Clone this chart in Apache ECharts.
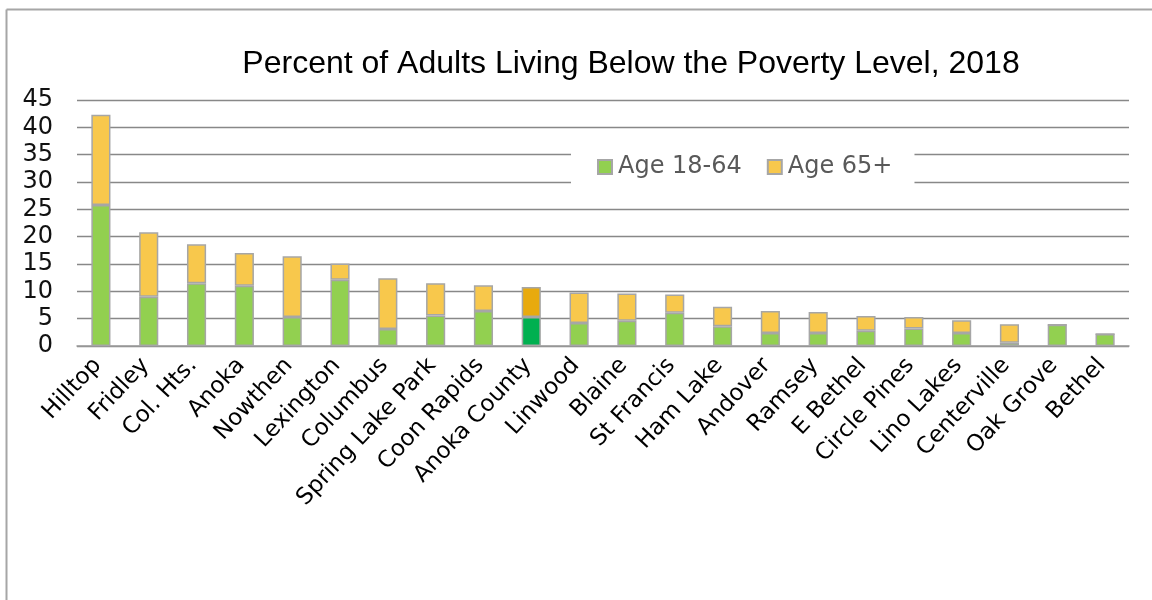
<!DOCTYPE html>
<html>
<head>
<meta charset="utf-8">
<script src="https://cdn.jsdelivr.net/npm/echarts@6/dist/echarts.min.js"></script>
<style>
html,body{margin:0;padding:0;background:#fff;}
#chart{width:1152px;height:600px;}
</style>
</head>
<body>
<div id="chart"></div>
<script>
const categories = ["Hilltop","Fridley","Col. Hts.","Anoka","Nowthen","Lexington","Columbus","Spring Lake Park","Coon Rapids","Anoka County","Linwood","Blaine","St Francis","Ham Lake","Andover","Ramsey","E Bethel","Circle Pines","Lino Lakes","Centerville","Oak Grove","Bethel"];
const age18to64 = [25.8, 9.0, 11.5, 11.0, 5.3, 12.1, 3.1, 5.6, 6.4, 5.3, 4.2, 4.6, 6.1, 3.6, 2.4, 2.4, 2.8, 3.2, 2.4, 0.6, 3.9, 2.2];
const age65plus = [16.5, 11.8, 7.1, 6.0, 11.1, 3.0, 9.3, 5.9, 4.7, 5.5, 5.6, 5.0, 3.3, 3.6, 4.0, 3.8, 2.7, 2.1, 2.3, 3.4, 0, 0];
const seriesNames = ["Age 18-64", "Age 65+"];
const highlightCategory = "Anoka County";

const colors = { young: "#92d050", old: "#f8c84c", youngHi: "#00b050", oldHi: "#e8aa0e" };

function build(values, hi) {
  return values.map((v, i) => categories[i] === highlightCategory
    ? { value: v, itemStyle: { color: hi } }
    : v);
}

const chart = echarts.init(document.getElementById('chart'), null, { renderer: 'canvas' });
chart.setOption({
  backgroundColor: '#fff',
  animation: false,
  title: {
    text: 'Percent of Adults Living Below the Poverty Level, 2018',
    left: 626, top: 43, textAlign: 'center',
    textStyle: { fontFamily: 'Liberation Sans', fontSize: 32, fontWeight: 'normal', color: '#000' }
  },
  legend: {
    data: seriesNames,
    left: 571, top: 145,
    padding: [10, 22, 10, 26],
    backgroundColor: '#fff',
    itemWidth: 14, itemHeight: 14, itemGap: 25,
    icon: 'rect',
    textStyle: { fontFamily: 'DejaVu Sans', fontSize: 24, color: '#595959', padding: [0,0,0,1] }
  },
  grid: { left: 77, right: 23, top: 100, bottom: 254, containLabel: false },
  xAxis: {
    type: 'category',
    data: categories,
    axisLine: { lineStyle: { color: '#9a9a9a', width: 1.5 } },
    axisTick: { show: false },
    axisLabel: { rotate: 47, margin: 12, interval: 0, padding: [0, 5, 0, 0], fontFamily: 'DejaVu Sans', fontSize: 23, color: '#000' }
  },
  yAxis: {
    type: 'value', min: 0, max: 45, interval: 5,
    axisLine: { show: false }, axisTick: { show: false },
    axisLabel: { margin: 24, fontFamily: 'DejaVu Sans', fontSize: 24, color: '#111' },
    splitLine: { lineStyle: { color: '#888', width: 1.3 } }
  },
  series: [
    { name: seriesNames[0], type: 'bar', stack: 'total', barWidth: '40%',
      itemStyle: { color: colors.young, borderColor: '#a6a6a6', borderWidth: 1.5 },
      data: build(age18to64, colors.youngHi) },
    { name: seriesNames[1], type: 'bar', stack: 'total', barWidth: '40%',
      itemStyle: { color: colors.old, borderColor: '#a6a6a6', borderWidth: 1.5 },
      data: build(age65plus, colors.oldHi) }
  ],
  graphic: [
    { type: 'line', shape: { x1: 6.5, y1: 9.5, x2: 1152, y2: 9.5 }, style: { stroke: '#a6a6a6', lineWidth: 2 } },
    { type: 'line', shape: { x1: 6.5, y1: 9.5, x2: 6.5, y2: 600 }, style: { stroke: '#a6a6a6', lineWidth: 2 } }
  ]
});
</script>
</body>
</html>
